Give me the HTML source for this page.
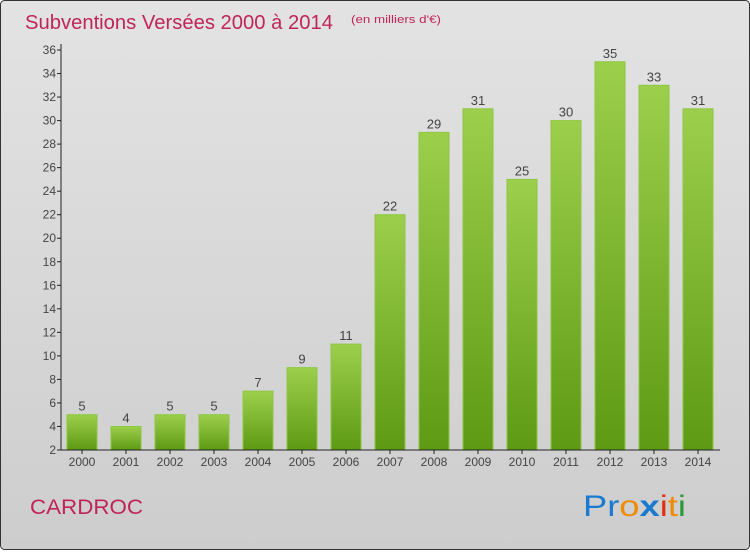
<!DOCTYPE html>
<html><head><meta charset="utf-8"><style>
body{margin:0}
#c{width:750px;height:550px;position:relative;font-family:"Liberation Sans",sans-serif}
</style></head><body>
<div id="c">
<svg id="s" width="750" height="550" xmlns="http://www.w3.org/2000/svg" font-family="Liberation Sans, sans-serif">
<defs>
<linearGradient id="bg" x1="0" y1="0" x2="0" y2="1"><stop offset="0" stop-color="#e3e3e3"/><stop offset="1" stop-color="#cdcdcd"/></linearGradient>
<linearGradient id="bar" x1="0" y1="0" x2="0" y2="1"><stop offset="0" stop-color="#9ccf4c"/><stop offset="1" stop-color="#5e9a14"/></linearGradient>
</defs>
<rect x="0.5" y="0.5" width="749" height="549" rx="4" fill="url(#bg)" stroke="#333"/>
<text x="25" y="29" font-size="20" fill="#c0255a" textLength="308" lengthAdjust="spacingAndGlyphs">Subventions Versées 2000 à 2014</text>
<text x="351" y="23" font-size="11" fill="#c0255a" textLength="90" lengthAdjust="spacingAndGlyphs">(en milliers d'€)</text>
<text x="30" y="514" font-size="21" fill="#c0255a" textLength="113" lengthAdjust="spacingAndGlyphs">CARDROC</text>
<g font-size="30">
<text x="583" y="516" textLength="103" lengthAdjust="spacingAndGlyphs"><tspan fill="#1a7ad0">Pr</tspan><tspan fill="#f08a00">o</tspan><tspan fill="#1a7ad0" font-weight="bold">x</tspan><tspan fill="#e03010">i</tspan><tspan fill="#f08a00">t</tspan><tspan fill="#2a9a3a">i</tspan></text>
</g>
<g id="g"></g>
</svg>
</div>
<script>
const years=["2000","2001","2002","2003","2004","2005","2006","2007","2008","2009","2010","2011","2012","2013","2014"];
const values=[5,4,5,5,7,9,11,22,29,31,25,30,35,33,31];
const yTicks=[2,4,6,8,10,12,14,16,18,20,22,24,26,28,30,32,34,36];
const NS="http://www.w3.org/2000/svg";
const g=document.getElementById('g');
const y=v=>450-(v-2)*400/34;
const x=i=>82+i*44;
function mk(t,a,txt){const e=document.createElementNS(NS,t);for(const k in a)e.setAttribute(k,a[k]);if(txt!=null)e.textContent=txt;g.appendChild(e);return e;}
yTicks.forEach(v=>{
 const l=mk('line',{x1:57,x2:61,y1:y(v),y2:y(v),stroke:'#222'});
 
 
 const t=mk('text',{x:56,y:y(v)+4,'text-anchor':'end','font-size':12,fill:'#444'},v);
 
 
});
values.forEach((v,i)=>{
 const r=mk('rect',{x:x(i)-15,y:y(v),width:30,height:450-y(v),fill:'url(#bar)',stroke:'#8cc83e','stroke-width':1});
 
 
 const t=mk('text',{x:x(i),y:y(v)-4,'text-anchor':'middle','font-size':13,fill:'#444'},v);
 
 
 const tk=mk('line',{x1:x(i),x2:x(i),y1:450,y2:454,stroke:'#222'});
 
 
 const xl=mk('text',{x:x(i),y:466,'text-anchor':'middle','font-size':12,fill:'#444'},years[i]);
 
 
});
const ya=mk('line',{x1:61,x2:61,y1:44,y2:450,stroke:'#222'});


const xa=mk('line',{x1:61,x2:720,y1:450,y2:450,stroke:'#222'});


</script>
</body></html>
